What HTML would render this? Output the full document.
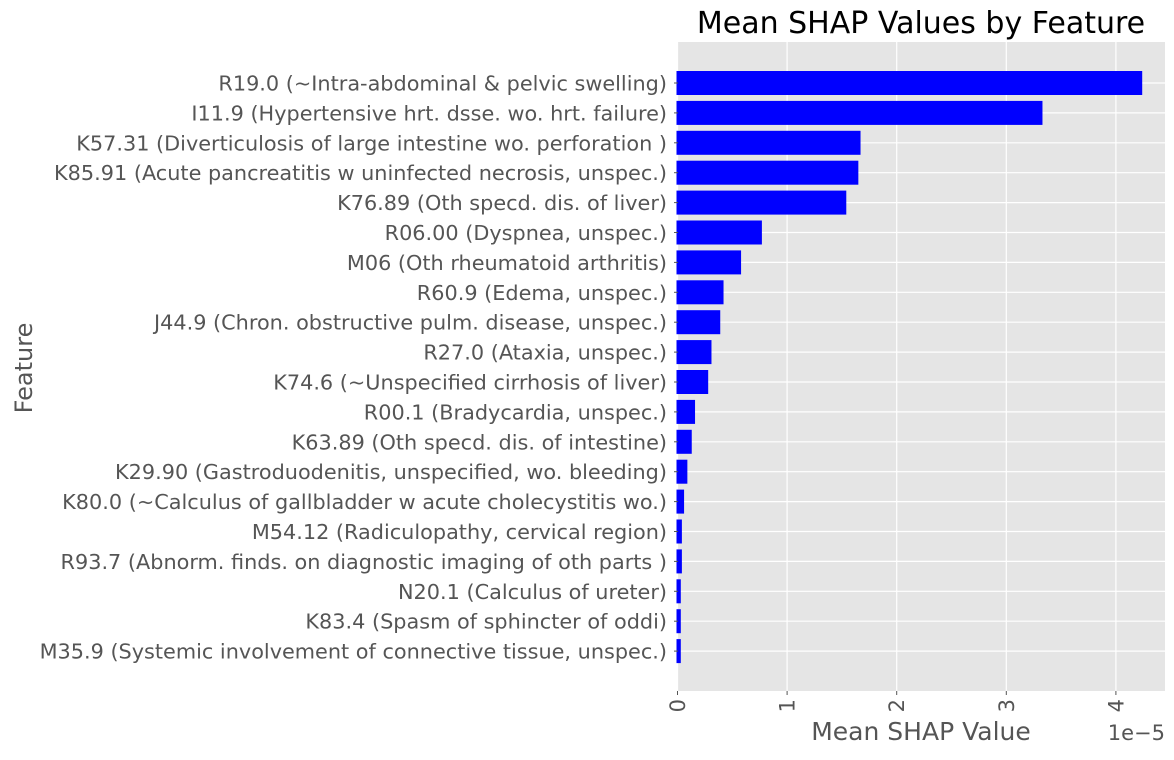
<!DOCTYPE html>
<html><head><meta charset="utf-8"><style>
body{margin:0;background:#fff;}
svg text{font-family:"DejaVu Sans","Liberation Sans",sans-serif;}
</style></head><body>
<svg width="1174" height="755">
<rect x="678" y="42" width="487" height="649" fill="#e5e5e5"/>
<g id="grid"></g><g id="bars"></g><g id="yticks"></g><g id="xticks"></g>
<text x="921" y="33" font-size="30" text-anchor="middle" fill="#000">Mean SHAP Values by Feature</text>
<text x="921" y="740" font-size="25" text-anchor="middle" fill="#555">Mean SHAP Value</text>
<text x="1165" y="740" font-size="21" text-anchor="end" fill="#555">1e−5</text>
<text transform="translate(32,368) rotate(-90)" font-size="24" text-anchor="middle" fill="#555">Feature</text>
</svg>
<script>
const categories=["R19.0 (~Intra-abdominal & pelvic swelling)","I11.9 (Hypertensive hrt. dsse. wo. hrt. failure)","K57.31 (Diverticulosis of large intestine wo. perforation )","K85.91 (Acute pancreatitis w uninfected necrosis, unspec.)","K76.89 (Oth specd. dis. of liver)","R06.00 (Dyspnea, unspec.)","M06 (Oth rheumatoid arthritis)","R60.9 (Edema, unspec.)","J44.9 (Chron. obstructive pulm. disease, unspec.)","R27.0 (Ataxia, unspec.)","K74.6 (~Unspecified cirrhosis of liver)","R00.1 (Bradycardia, unspec.)","K63.89 (Oth specd. dis. of intestine)","K29.90 (Gastroduodenitis, unspecified, wo. bleeding)","K80.0 (~Calculus of gallbladder w acute cholecystitis wo.)","M54.12 (Radiculopathy, cervical region)","R93.7 (Abnorm. finds. on diagnostic imaging of oth parts )","N20.1 (Calculus of ureter)","K83.4 (Spasm of sphincter of oddi)","M35.9 (Systemic involvement of connective tissue, unspec.)"];
const values=[4.24,3.33,1.67,1.65,1.54,0.77,0.58,0.42,0.39,0.31,0.28,0.16,0.13,0.09,0.06,0.04,0.04,0.03,0.03,0.03];
const xTicks=[0,1,2,3,4];
const NS="http://www.w3.org/2000/svg";
const x=v=>677.5+v*109.6;
const y=i=>83+i*29.9;
function mk(t,a,p){const e=document.createElementNS(NS,t);for(const k in a)e.setAttribute(k,a[k]);document.getElementById(p).appendChild(e);return e;}
xTicks.forEach(t=>{
 const g=mk('line',{x1:x(t),x2:x(t),y1:42,y2:691,stroke:'#fff','stroke-width':1.2},'grid');
 
 
 const tk=mk('line',{x1:x(t),x2:x(t),y1:691,y2:695,stroke:'#555'},'xticks');
 
 
 const tl=mk('text',{transform:`translate(${x(t)+7.5},699) rotate(-90)`,'font-size':21,'text-anchor':'end',fill:'#555'},'xticks');
 tl.textContent=t;
 
 
});
categories.forEach((c,i)=>{
 const g=mk('line',{x1:678,x2:1165,y1:y(i),y2:y(i),stroke:'#fff','stroke-width':1.2},'grid');
 
 
 const b=mk('rect',{x:x(0)-1,y:y(i)-12,width:Math.max(x(values[i])-x(0)+1,1),height:24,fill:'#0000ff'},'bars');
 
 
 const tk=mk('line',{x1:674,x2:678,y1:y(i),y2:y(i),stroke:'#555'},'yticks');
 
 
 const tl=mk('text',{x:667,y:y(i)+7.5,'font-size':20.8,'text-anchor':'end',fill:'#555'},'yticks');
 tl.textContent=c;
 
 
});
</script>
</body></html>
